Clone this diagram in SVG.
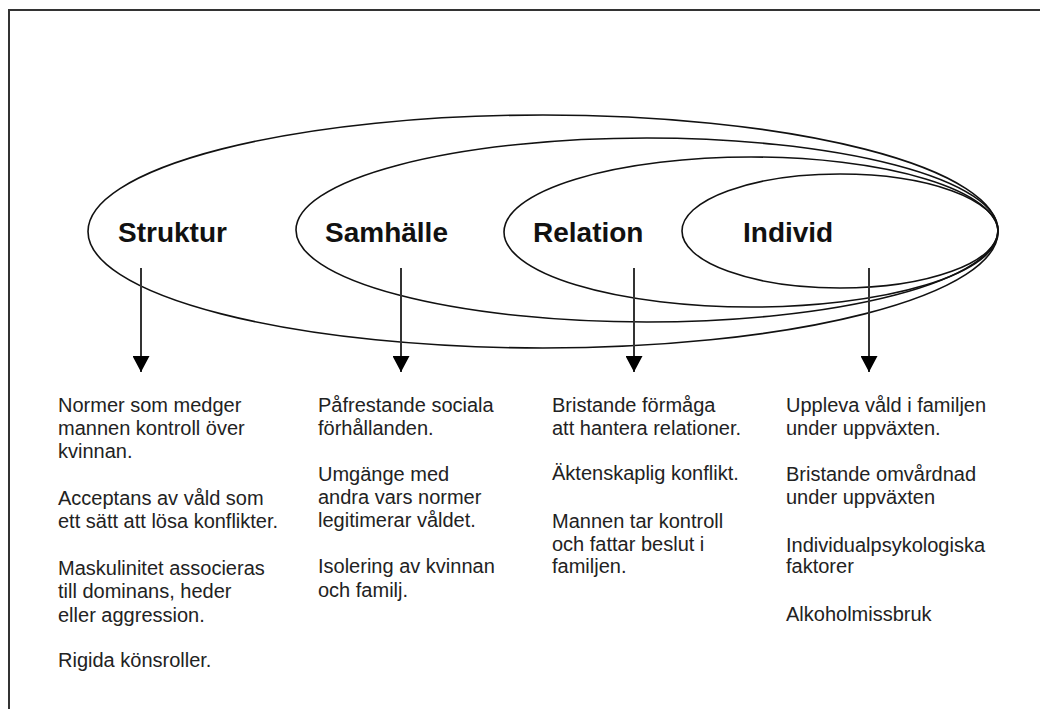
<svg xmlns="http://www.w3.org/2000/svg" width="1040" height="709" viewBox="0 0 1040 709">
<defs>
<marker id="ah" viewBox="0 0 16 17" refX="16" refY="8.5" markerWidth="16" markerHeight="17" markerUnits="userSpaceOnUse" orient="auto">
<path d="M0,0 L16,8.5 L0,17 Z" fill="#000"/>
</marker>
<style>
.ring{fill:none;stroke:#111;stroke-width:1.6}
.lbl{font-family:"Liberation Sans",Arial,sans-serif;font-weight:bold;font-size:28px;fill:#111}
.txt{font-family:"Liberation Sans",Arial,sans-serif;font-size:20px;fill:#222}
.arr{stroke:#333;stroke-width:2;fill:none}
</style>
</defs>
<rect width="1040" height="709" fill="#fff"/>
<path d="M9,709 L9,10 L1040,10" fill="none" stroke="#333" stroke-width="2"/>
<g id="struktur">
<ellipse class="ring" cx="543" cy="231.5" rx="455" ry="116.5"/>
<text class="lbl" x="118" y="242">Struktur</text>
</g>
<g id="samhalle">
<ellipse class="ring" cx="647" cy="230" rx="351" ry="92"/>
<text class="lbl" x="325" y="242">Samhälle</text>
</g>
<g id="relation">
<ellipse class="ring" cx="751" cy="232" rx="247" ry="75"/>
<text class="lbl" x="533" y="242">Relation</text>
</g>
<g id="individ">
<ellipse class="ring" cx="840" cy="231" rx="158" ry="57"/>
<text class="lbl" x="743" y="242">Individ</text>
</g>
<g id="connectors">
<line class="arr" x1="141" y1="268" x2="141" y2="372" marker-end="url(#ah)"/>
<line class="arr" x1="401" y1="268" x2="401" y2="372" marker-end="url(#ah)"/>
<line class="arr" x1="634" y1="268" x2="634" y2="372" marker-end="url(#ah)"/>
<line class="arr" x1="869" y1="268" x2="869" y2="372" marker-end="url(#ah)"/>
</g>
<g id="struktur-text" class="txt">
<text x="58" y="412">Normer som medger</text>
<text x="58" y="435">mannen kontroll över</text>
<text x="58" y="458">kvinnan.</text>
<text x="58" y="505">Acceptans av våld som</text>
<text x="58" y="528">ett sätt att lösa konflikter.</text>
<text x="58" y="575">Maskulinitet associeras</text>
<text x="58" y="598">till dominans, heder</text>
<text x="58" y="622">eller aggression.</text>
<text x="58" y="667">Rigida könsroller.</text>
</g>
<g id="samhalle-text" class="txt">
<text x="318" y="412">Påfrestande sociala</text>
<text x="318" y="435">förhållanden.</text>
<text x="318" y="481">Umgänge med</text>
<text x="318" y="504">andra vars normer</text>
<text x="318" y="527">legitimerar våldet.</text>
<text x="318" y="573">Isolering av kvinnan</text>
<text x="318" y="597">och familj.</text>
</g>
<g id="relation-text" class="txt">
<text x="552" y="412">Bristande förmåga</text>
<text x="552" y="435">att hantera relationer.</text>
<text x="552" y="480">Äktenskaplig konflikt.</text>
<text x="552" y="528">Mannen tar kontroll</text>
<text x="552" y="551">och fattar beslut i</text>
<text x="552" y="573">familjen.</text>
</g>
<g id="individ-text" class="txt">
<text x="786" y="412">Uppleva våld i familjen</text>
<text x="786" y="435">under uppväxten.</text>
<text x="786" y="481">Bristande omvårdnad</text>
<text x="786" y="504">under uppväxten</text>
<text x="786" y="552">Individualpsykologiska</text>
<text x="786" y="573">faktorer</text>
<text x="786" y="621">Alkoholmissbruk</text>
</g>
</svg>
